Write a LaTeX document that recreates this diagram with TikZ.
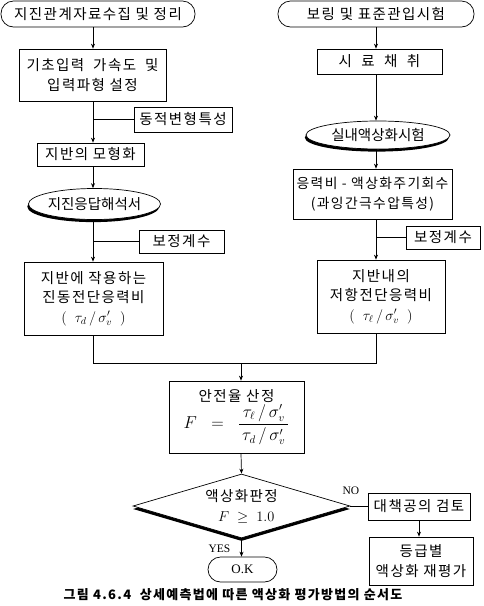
\documentclass[tikz,border=0pt]{standalone}
\usepackage{amsmath}
\usepackage{fontspec}
\setmainfont{Noto Sans CJK KR}[LetterSpace=10]
\newfontfamily\tight{Noto Sans CJK KR}
\newfontfamily\latin{Liberation Serif}
\usetikzlibrary{arrows.meta,positioning,shapes.geometric,shadows}

\begin{document}
\begin{tikzpicture}[
  x=1pt, y=-1pt,
  sz/.style 2 args={minimum width=#1pt, minimum height=#2pt},
  proc/.style={rectangle, draw, line width=0.7pt, fill=white, inner sep=0pt,
    align=center, font=\fontsize{14.5}{19.5}\selectfont},
  term/.style={proc, rounded corners=12.5pt},
  test/.style={ellipse, draw, line width=0.7pt, fill=white, inner sep=0pt,
    font=\tight\fontsize{14.5}{17}\selectfont,
    drop shadow={fill=black, opacity=1, shadow xshift=-1.2pt, shadow yshift=-2.6pt}},
  judge/.style={diamond, aspect=3.4, draw, line width=0.7pt, fill=white, inner sep=0pt,
    align=center, font=\fontsize{14.5}{20}\selectfont,
    drop shadow={fill=black, opacity=1, shadow xshift=0pt, shadow yshift=-3pt}},
  lbl/.style={inner sep=0pt, font=\latin\fontsize{11.5}{13}\selectfont},
  arr/.style={-{Stealth[length=5pt,width=4pt]}, line width=0.7pt},
  link/.style={line width=0.7pt},
]

% columns
\coordinate (colL) at (93,0);
\coordinate (colR) at (376,0);
\coordinate (colM) at (241,0);
\coordinate (jn) at (241,363);

% LEFT: seismic side
\node[term, sz={194}{26}] (start1) at (98,14) {지진관계자료수집 및 정리};
\node[proc, sz={147}{52}] (b1) at (92.5,75)
  {기초입력\hspace{9pt}가속도\hspace{9pt}및\\입력파형 설정};
\node[proc, sz={98}{25}] (dyn) at (183,119.5) {동적변형특성};
\node[proc, sz={107}{23}] (model) at (90.5,154.5) {지반의 모형화};
\node[test, sz={131}{31}] (ana) at (94.5,204) {지진응답해석서};
\node[proc, sz={85}{23}] (corr1) at (181.5,241.5) {보정계수};
\node[proc, sz={139}{73}] (csr) at (93.5,298.5)
  {지반에 작용하는\\진동전단응력비\\$(\;\;\tau_d\,/\,\sigma_v'\;\;)$};

% RIGHT: laboratory side
\node[term, sz={196}{26}] (start2) at (376,14) {보링 및 표준관입시험};
\node[proc, sz={125}{25}] (samp) at (379.5,61.5) {시\ \ 료\ \ 채\ \ 취};
\node[test, sz={144}{28}] (lab) at (378,135) {실내액상화시험};
\node[proc, sz={159}{50}, font=\fontsize{13.8}{19.5}\selectfont] (rr) at (372.5,194)
  {응력비 - 액상화주기회수\\(과잉간극수압특성)};
\node[proc, sz={74}{23}] (corr2) at (443,237.5) {보정계수};
\node[proc, sz={128}{73}] (crr) at (381,296.5)
  {지반내의\\저항전단응력비\\$(\;\;\tau_\ell\,/\,\sigma_v'\;\;)$};

% MIDDLE: safety factor and decision
\node[proc, sz={135}{72}] (fs) at (236.5,417)
  {안전율 산정\\[1pt]{\fontsize{16}{19}\selectfont
   $F \;\;=\;\; \dfrac{\,\tau_\ell\,/\,\sigma_v'\,}{\,\tau_d\,/\,\sigma_v'\,}$}};
\node[judge, sz={217}{64}] (dec) at (241.5,506)
  {액상화판정\\\ \ {\fontsize{14}{16}\selectfont$F\;\geq\;1.0$}};
\node[proc, sz={102}{27}] (cm) at (419,506.5) {대책공의 검토};
\node[proc, sz={104}{48}] (re) at (421,561) {등급별\\액상화 재평가};
\node[term, sz={69}{25}, font=\latin\fontsize{13}{15}\selectfont] (ok) at (242.5,569.5) {O.K};
\node[lbl] (no) at (351,491) {NO};
\node[lbl] (yes) at (219.5,549) {YES};

% caption
\node[inner sep=0pt, font=\bfseries\fontsize{13}{15}\selectfont] (cap) at (233,595)
  {그림 4.6.4\ \ 상세예측법에 따른 액상화 평가방법의 순서도};

% ARROWS
\draw[arr] (start1.south -| colL) -- (b1.north -| colL);
\draw[arr] (b1.south -| colL) -- (model.north -| colL);
\draw[link] (dyn.west) -- (dyn.west -| colL);
\draw[arr] (model.south -| colL) -- (ana.north -| colL);
\draw[arr] (ana.south -| colL) -- (csr.north -| colL);
\draw[link] (corr1.west) -- (corr1.west -| colL);
\draw[arr] (start2.south -| colR) -- (samp.north -| colR);
\draw[arr] (samp.south -| colR) -- (lab.north -| colR);
\draw[arr] (lab.south -| colR) -- (rr.north -| colR);
\draw[arr] (rr.south -| colR) -- (crr.north -| colR);
\draw[link] (corr2.west) -- (corr2.west -| colR);
\draw[link] (csr.south -| colL) |- (jn);
\draw[link] (crr.south -| colR) |- (jn);
\draw[arr] (jn) -- (fs.north -| jn);
\draw[arr] (fs.south -| colM) -- (dec.north);
\draw[link] (dec.east) -- (cm.west |- dec.east);
\draw[arr] (cm.south) -- (cm.south |- re.north);
\draw[arr] (dec.south) -- (ok.north -| dec.south);

\useasboundingbox (0,0) rectangle (483,606);
\end{tikzpicture}
\end{document}
